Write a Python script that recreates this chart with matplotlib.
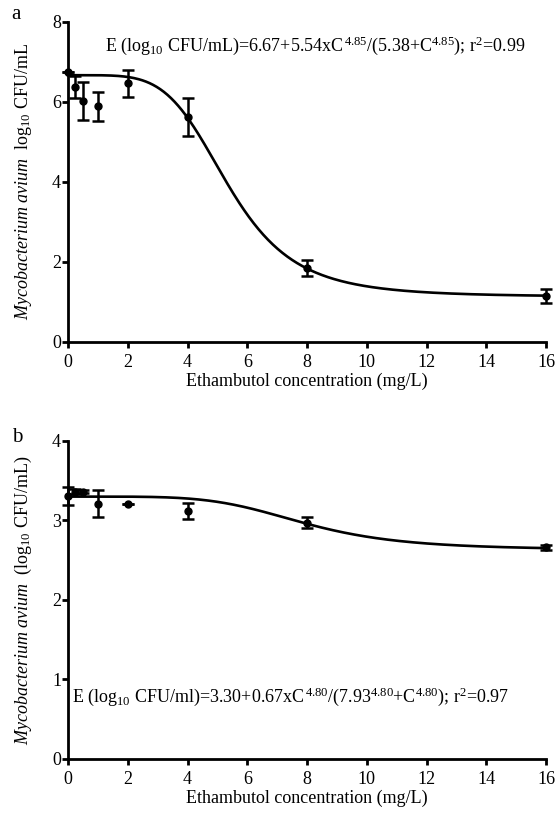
import numpy as np
import matplotlib
matplotlib.use("Agg")
import matplotlib.pyplot as plt

plt.rcParams['font.family'] = ['Liberation Serif', 'DejaVu Serif']
plt.rcParams['mathtext.fontset'] = 'custom'
plt.rcParams['mathtext.rm'] = 'Liberation Serif'
plt.rcParams['mathtext.it'] = 'Liberation Serif:italic'

# concentrations (mg/L)
conc = [0, 0.25, 0.5, 1, 2, 4, 8, 16]

# panel a: observed mean and error
a_mean = [6.76, 6.38, 6.03, 5.89, 6.47, 5.62, 1.84, 1.15]
a_err = [0.0, 0.27, 0.47, 0.37, 0.34, 0.47, 0.20, 0.17]

# panel b: observed mean and error
b_mean = [3.31, 3.36, 3.36, 3.21, 3.21, 3.12, 2.97, 2.66]
b_err = [0.11, 0.03, 0.02, 0.17, 0.0, 0.10, 0.07, 0.03]

# fitted sigmoid Emax parameters (E0, Emax, EC50, hill)
a_fit = (6.67, 5.54, 5.38, 4.85)
b_fit = (3.30, 0.67, 7.93, 4.80)

a_eq = r"E (log$_{10}$ CFU/mL)=6.67+5.54xC$^{\,4.85}$/(5.38+C$^{4.85}$); r$^{2}$=0.99"
b_eq = r"E (log$_{10}$ CFU/ml)=3.30+0.67xC$^{\,4.80}$/(7.93$^{4.80}$+C$^{4.80}$); r$^{2}$=0.97"


def emax(c, e0, emx, ec50, h):
    return e0 - emx * c**h / (ec50**h + c**h)


def panel(ax, mean, err, fit, ylim, yticks, ylabel, eq, eq_xy, letter, letter_y):
    cc = np.linspace(0, 16, 400)
    ax.plot(cc, emax(cc, *fit), color='black', lw=1.9, clip_on=False)
    ax.errorbar(conc, mean, yerr=err, fmt='o', color='black', ms=5,
                elinewidth=1.8, capsize=4.5, capthick=1.8, clip_on=False,
                zorder=3)
    ax.set_xlim(0, 16)
    ax.set_ylim(*ylim)
    ax.set_xticks(range(0, 17, 2))
    ax.set_yticks(yticks)
    for s in ['top', 'right']:
        ax.spines[s].set_visible(False)
    for s in ['left', 'bottom']:
        ax.spines[s].set_linewidth(2.0)
    ax.tick_params(direction='out', length=4, width=2.0, labelsize=13, pad=1)
    ax.tick_params(axis='x', pad=5)
    ax.set_xlabel('Ethambutol concentration (mg/L)', fontsize=13, labelpad=1)
    ax.set_ylabel(ylabel, fontsize=13, labelpad=13)
    ax.text(eq_xy[0], eq_xy[1], eq, fontsize=13, va='center', ha='left')
    ax.text(-0.118, letter_y, letter, transform=ax.transAxes, fontsize=15,
            ha='left', va='center')


fig = plt.figure(figsize=(5.57, 8.14), dpi=100)
ax1 = fig.add_axes([0.1221, 0.5799, 0.8582, 0.3931])
ax2 = fig.add_axes([0.1221, 0.0676, 0.8582, 0.3907])

panel(ax1, a_mean, a_err, a_fit, (0, 8), [0, 2, 4, 6, 8],
      r"$\it{Mycobacterium\ avium}$  log$_{10}$ CFU/mL",
      a_eq, (1.25, 7.4), 'a', 1.022)
panel(ax2, b_mean, b_err, b_fit, (0, 4), [0, 1, 2, 3, 4],
      r"$\it{Mycobacterium\ avium}$  (log$_{10}$ CFU/mL)",
      b_eq, (0.15, 0.78), 'b', 1.01)

fig.savefig('out.png', dpi=100)
